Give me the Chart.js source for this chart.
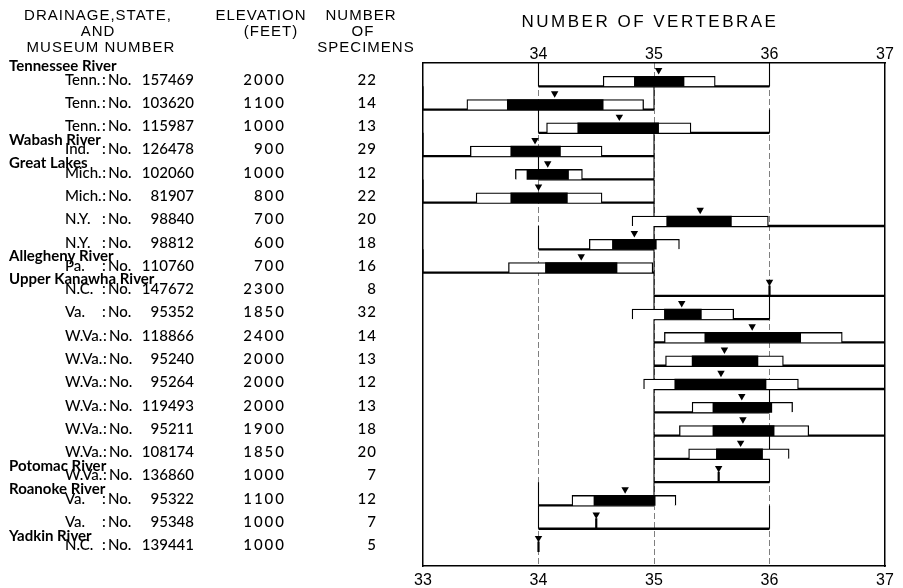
<!DOCTYPE html>
<html>
<head>
<meta charset="utf-8">
<script src="https://cdn.jsdelivr.net/npm/chart.js@4.4.1/dist/chart.umd.min.js"></script>
<style>
  body { margin: 0; background: #fff; }
  #wrap { width: 903px; height: 588px; }
</style>
</head>
<body>
<div id="wrap"><canvas id="vert"></canvas></div>
<script>
// one entry per sample, top to bottom
var states = ['Tenn.', 'Tenn.', 'Tenn.', 'Ind.', 'Mich.', 'Mich.', 'N.Y.', 'N.Y.', 'Pa.', 'N.C.', 'Va.',
  'W.Va.', 'W.Va.', 'W.Va.', 'W.Va.', 'W.Va.', 'W.Va.', 'W.Va.', 'Va.', 'Va.', 'N.C.'];
var museumNo = ['157469', '103620', '115987', '126478', '102060', '81907', '98840', '98812', '110760', '147672', '95352',
  '118866', '95240', '95264', '119493', '95211', '108174', '136860', '95322', '95348', '139441'];
var elevation = [2000, 1100, 1000, 900, 1000, 800, 700, 600, 700, 2300, 1850, 2400, 2000, 2000, 2000, 1900, 1850, 1000, 1100, 1000, 1000];
var specimens = [22, 14, 13, 29, 12, 22, 20, 18, 16, 8, 32, 14, 13, 12, 13, 18, 20, 7, 12, 7, 5];

var drainages = ['Tennessee River', 'Wabash River', 'Great Lakes', 'Allegheny River', 'Upper Kanawha River',
  'Potomac River', 'Roanoke River', 'Yadkin River'];
var drainageRow = [0, 3, 4, 8, 9, 17, 18, 20];

// vertebrae counts
var rangeMin = [34, 33, 34, 33, 34, 33, 35, 34, 33, 35, 35, 35, 35, 35, 35, 35, 35, 35, 34, 34, 34];
var rangeMax = [36, 35, 36, 35, 35, 35, 37, 35, 35, 37, 36, 37, 37, 37, 36, 37, 36, 36, 35, 36, 34];
var means = [35.04, 34.14, 34.70, 33.97, 34.08, 34.00, 35.40, 34.83, 34.37, 36.00, 35.24,
  35.85, 35.61, 35.58, 35.76, 35.77, 35.75, 35.56, 34.75, 34.50, 34.00];
var sdLow = [34.56, 33.38, 34.07, 33.41, 33.80, 33.46, 34.81, 34.44, 33.74, null, 34.81,
  35.09, 35.10, 34.91, 35.33, 35.22, 35.30, null, 34.29, null, null];
var sdHigh = [35.53, 34.91, 35.32, 34.55, 34.38, 34.55, 35.99, 35.22, 34.99, null, 35.69,
  36.63, 36.12, 36.25, 36.20, 36.34, 36.17, null, 35.19, null, null];
var seLow = [34.83, 33.73, 34.34, 33.76, 33.90, 33.76, 35.11, 34.64, 34.06, null, 35.09,
  35.44, 35.33, 35.18, 35.51, 35.51, 35.54, null, 34.48, null, null];
var seHigh = [35.26, 34.56, 35.04, 34.19, 34.26, 34.25, 35.67, 35.02, 34.68, null, 35.41,
  36.27, 35.90, 35.97, 36.02, 36.04, 35.94, null, 35.01, null, null];

var xTicks = [33, 34, 35, 36, 37];

var datasets = [];
var sdBars = [], seBars = [], marks = [];

for (var i = 0; i < museumNo.length; i++) {
  var base = i + 1;   // row baseline on the y scale
  if (rangeMin[i] !== rangeMax[i]) {
    datasets.push({
      type: 'line',
      data: [{x: rangeMin[i], y: base - 1}, {x: rangeMin[i], y: base}, {x: rangeMax[i], y: base}, {x: rangeMax[i], y: base - 1}],
      borderColor: '#000',
      borderWidth: 1.1,
      segment: { borderWidth: function (c) { return c.p0DataIndex === 1 ? 2.3 : 1.1; } },
      pointRadius: 0,
      order: 4
    });
  }
  if (sdLow[i] !== null) {
    sdBars.push({y: base - 0.215, x: [sdLow[i], sdHigh[i]]});
    seBars.push({y: base - 0.215, x: [seLow[i], seHigh[i]]});
    marks.push({x: means[i], y: base - 0.69});
  } else {
    // no bars: mean shown with a stem down to the baseline
    datasets.push({
      type: 'line',
      data: [{x: means[i], y: base - 0.45}, {x: means[i], y: base}],
      borderColor: '#000',
      borderWidth: 2.2,
      pointRadius: 0,
      order: 3
    });
    marks.push({x: means[i], y: base - 0.6});
  }
}

datasets.push({
  type: 'bar',
  indexAxis: 'y',
  grouped: false,
  data: sdBars,
  backgroundColor: '#fff',
  borderColor: '#000',
  borderWidth: 1.3,
  borderSkipped: 'bottom',
  barThickness: 10,
  order: 2
});
datasets.push({
  type: 'bar',
  indexAxis: 'y',
  grouped: false,
  data: seBars,
  backgroundColor: '#000',
  borderWidth: 0,
  barThickness: 10,
  order: 1
});
datasets.push({
  type: 'scatter',
  data: marks,
  pointStyle: 'triangle',
  rotation: 180,
  radius: 4.3,
  backgroundColor: '#000',
  borderColor: '#000',
  borderWidth: 0,
  order: 0
});

var LABEL_FONT = '"Lato", "DejaVu Sans", sans-serif';
var HEAD_FONT = '"Liberation Sans", sans-serif';

var sideText = {
  id: 'sideText',
  afterDraw: function (chart) {
    var ctx = chart.ctx, ys = chart.scales.y, area = chart.chartArea;
    ctx.save();
    ctx.fillStyle = '#000';
    ctx.textBaseline = 'middle';

    // chart title over the plot
    ctx.font = '17px ' + HEAD_FONT;
    ctx.letterSpacing = '2.5px';
    ctx.textAlign = 'center';
    ctx.fillText('NUMBER OF VERTEBRAE', (area.left + area.right) / 2 - 4, 22);

    // column headings
    ctx.font = '15px ' + HEAD_FONT;
    ctx.letterSpacing = '1px';
    ctx.fillText('DRAINAGE,STATE,', 98, 16);
    ctx.fillText('AND', 98, 32);
    ctx.fillText('MUSEUM NUMBER', 101, 48);
    ctx.fillText('ELEVATION', 261, 16);
    ctx.fillText('(FEET)', 271, 32);
    ctx.fillText('NUMBER', 361, 16);
    ctx.fillText('OF', 363, 32);
    ctx.fillText('SPECIMENS', 366, 48);

    for (var i = 0; i < museumNo.length; i++) {
      var py = ys.getPixelForValue(i + 1 - 0.28);
      ctx.font = '500 15px ' + LABEL_FONT;
      ctx.letterSpacing = '0px';
      ctx.textAlign = 'left';
      ctx.fillText(states[i], 65, py);
      var colonX = Math.max(65 + ctx.measureText(states[i]).width + 0.5, 102);
      ctx.fillText(':', colonX, py);
      ctx.fillText('No.', colonX + 6, py);
      ctx.textAlign = 'right';
      ctx.fillText(museumNo[i], 194, py);
      ctx.letterSpacing = '2px';
      ctx.fillText(String(elevation[i]), 286, py);
      ctx.letterSpacing = '1px';
      ctx.fillText(String(specimens[i]), 377, py);
    }

    ctx.font = 'bold 15px ' + LABEL_FONT;
    ctx.letterSpacing = '0px';
    ctx.textAlign = 'left';
    for (var d = 0; d < drainages.length; d++) {
      var r = drainageRow[d];
      var off = d === 0 ? 0.88 : 0.7;
      ctx.fillText(drainages[d], 9, ys.getPixelForValue(r + 1 - off));
    }
    ctx.restore();
  }
};

new Chart(document.getElementById('vert'), {
  type: 'bar',
  data: { datasets: datasets },
  options: {
    responsive: true,
    maintainAspectRatio: false,
    animation: false,
    layout: { padding: { left: 423, right: 18, top: 0, bottom: 0 } },
    plugins: { legend: { display: false }, tooltip: { enabled: false } },
    scales: {
      x: {
        type: 'linear', position: 'bottom', min: 33, max: 37, offset: false,
        afterBuildTicks: function (s) { s.ticks = xTicks.map(function (v) { return {value: v}; }); },
        ticks: { color: '#000', padding: 5, font: { family: 'Liberation Sans', size: 16 } },
        grid: {
          offset: false, drawTicks: false, lineWidth: 1,
          color: function (c) { return c.tick && c.tick.value > 33 && c.tick.value < 37 ? 'rgba(0,0,0,0.5)' : 'rgba(0,0,0,0)'; }
        },
        border: { display: true, color: '#000', width: 1.5, dash: [6, 3] },
        afterFit: function (s) { s.height = 22; }
      },
      x2: {
        type: 'linear', position: 'top', min: 33, max: 37, offset: false,
        afterBuildTicks: function (s) { s.ticks = xTicks.map(function (v) { return {value: v}; }); },
        ticks: {
          color: '#000', padding: -1, font: { family: 'Liberation Sans', size: 16 },
          callback: function (v) { return v === 33 ? '' : v; }
        },
        grid: { display: false, offset: false, drawTicks: false },
        border: { display: true, color: '#000', width: 1.5 },
        afterFit: function (s) { s.height = 63; }
      },
      y: {
        type: 'linear', position: 'left', reverse: true, min: 0, max: 21.6, offset: false,
        ticks: { display: false },
        grid: { display: false, offset: false, drawTicks: false },
        border: { display: true, color: '#000', width: 1.5 },
        afterFit: function (s) { s.width = 0; }
      },
      y2: {
        type: 'linear', position: 'right', reverse: true, min: 0, max: 21.6, offset: false,
        ticks: { display: false },
        grid: { display: false, offset: false, drawTicks: false },
        border: { display: true, color: '#000', width: 1.5 },
        afterFit: function (s) { s.width = 0; }
      }
    }
  },
  plugins: [sideText]
});
</script>
</body>
</html>
